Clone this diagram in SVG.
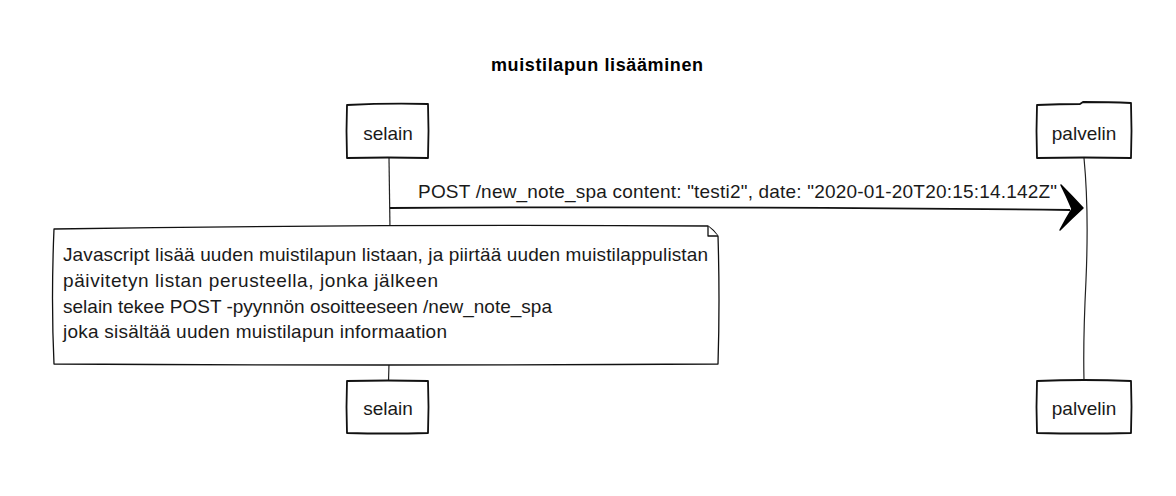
<svg xmlns="http://www.w3.org/2000/svg" width="1176" height="496" viewBox="0 0 1176 496">
<defs>
<style>
.t{font-family:"Liberation Sans",Arial,sans-serif;font-size:19px;fill:#1a1a1a}
.title{font-family:"Liberation Sans",Arial,sans-serif;font-size:18px;font-weight:bold;fill:#000}
.box{fill:#fff;stroke:#111;stroke-width:1.8;stroke-linejoin:round}
.life{fill:none;stroke:#222;stroke-width:1.2}
.note{fill:#fff;stroke:#111;stroke-width:1.3;stroke-linejoin:round}
</style>
</defs>
<rect width="1176" height="496" fill="#fff"/>
<text class="title" x="597" y="71" text-anchor="middle" textLength="212" lengthAdjust="spacing">muistilapun lisääminen</text>
<g id="connectors">
<path class="life" d="M389 158 L390 230"/>
<path class="life" d="M389 364 L388.5 381"/>
<path class="life" d="M1084 158 Q1089 210 1086 280 Q1083 340 1084 381"/>
<path d="M390 208 Q700 206 1070 210" fill="none" stroke="#111" stroke-width="1.8"/>
<path d="M1061 185 Q1072 196 1083 208 Q1072 218 1060 230 Q1066 219 1072 209 Q1067 197 1061 185 Z" fill="#000" stroke="#000" stroke-width="1.5" stroke-linejoin="round"/>
<text class="t" x="418" y="198" textLength="639" lengthAdjust="spacing">POST /new_note_spa content: "testi2", date: "2020-01-20T20:15:14.142Z"</text>
</g>
<g id="selain-top">
<path class="box" d="M347 105 Q388 103 428 104 Q429 131 428 158 Q388 157 347 158 Q346 131 347 105 Z"/>
<text class="t" x="388" y="140" text-anchor="middle">selain</text>
</g>
<g id="palvelin-top">
<path class="box" d="M1037 105 Q1060 104 1080 104 L1083 102 Q1110 102 1131 103 Q1132 131 1131 158 Q1084 157 1037 158 Q1036 131 1037 105 Z"/>
<text class="t" x="1084" y="140" text-anchor="middle">palvelin</text>
</g>
<g id="note">
<path class="note" d="M54 229 Q380 224 708 226 Q714 230 718 236 Q720 300 718 364 Q380 366 54 364 Q51 300 54 229 Z"/>
<path class="note" d="M708 226 Q708 232 708 236 L718 236"/>
<text class="t" x="63" y="261" textLength="645" lengthAdjust="spacing">Javascript lisää uuden muistilapun listaan, ja piirtää uuden muistilappulistan</text>
<text class="t" x="63" y="287" textLength="375" lengthAdjust="spacing">päivitetyn listan perusteella, jonka jälkeen</text>
<text class="t" x="63" y="313" textLength="489" lengthAdjust="spacing">selain tekee POST -pyynnön osoitteeseen /new_note_spa</text>
<text class="t" x="63" y="338" textLength="384" lengthAdjust="spacing">joka sisältää uuden muistilapun informaation</text>
</g>
<g id="selain-bottom">
<path class="box" d="M347 381 Q388 380 428 381 Q429 407 428 433 Q388 434 347 433 Q346 407 347 381 Z"/>
<text class="t" x="388" y="415" text-anchor="middle">selain</text>
</g>
<g id="palvelin-bottom">
<path class="box" d="M1037 381 Q1084 379 1131 381 Q1132 407 1131 433 Q1084 434 1037 433 Q1036 407 1037 381 Z"/>
<text class="t" x="1084" y="415" text-anchor="middle">palvelin</text>
</g>
</svg>
